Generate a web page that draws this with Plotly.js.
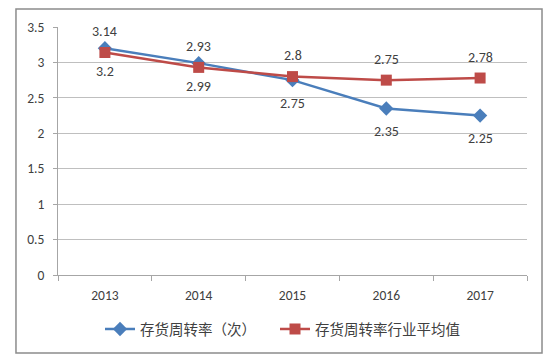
<!DOCTYPE html>
<html><head><meta charset="utf-8">
<script src="https://cdn.plot.ly/plotly-3.0.1.min.js"></script>
<style>html,body{margin:0;padding:0;background:#fff;}</style>
</head><body>
<div id="chart" style="width:554px;height:358px;"></div>
<script>
const years = ['2013', '2014', '2015', '2016', '2017'];
const turnover = [3.2, 2.99, 2.75, 2.35, 2.25];
const industryAvg = [3.14, 2.93, 2.8, 2.75, 2.78];
const name1 = '存货周转率（次）';
const name2 = '存货周转率行业平均值';

const blue = '#4A7EBB', red = '#BE4B48';
const baseFont = 'Carlito, Lato, "Noto Sans CJK SC", sans-serif';
const lblFont = {family: baseFont, size: 14, color: '#404040'};
const legFont = {family: '"Noto Sans CJK SC", sans-serif', size: 14.5, color: '#404040'};

const traces = [
  {x: years, y: turnover, name: name1, type: 'scatter', mode: 'lines+markers', legend: 'legend',
   line: {color: blue, width: 2.5}, marker: {symbol: 'diamond', size: 11, color: blue}, cliponaxis: false},
  {x: years, y: industryAvg, name: name2, type: 'scatter', mode: 'lines+markers', legend: 'legend2',
   line: {color: red, width: 2.5}, marker: {symbol: 'square', size: 11, color: red}, cliponaxis: false}
];

// category axis: annotation positions are category indices
const annotations = [];
years.forEach((yr, i) => {
  annotations.push({x: i, y: turnover[i], xref: 'x', yref: 'y', text: String(turnover[i]),
    showarrow: false, yshift: -23, font: lblFont});
  annotations.push({x: i, y: industryAvg[i], xref: 'x', yref: 'y', text: String(industryAvg[i]),
    showarrow: false, yshift: 21, font: lblFont});
});

const layout = {
  width: 554, height: 358,
  margin: {l: 58, r: 27, t: 27, b: 83},
  paper_bgcolor: '#fff', plot_bgcolor: '#fff',
  font: {family: baseFont, size: 13.5, color: '#404040'},
  showlegend: true,
  legend: {orientation: 'h', x: 0.0896, xanchor: 'left', y: -0.218, yanchor: 'middle',
           font: legFont, bgcolor: 'rgba(0,0,0,0)'},
  legend2: {orientation: 'h', x: 0.4627, xanchor: 'left', y: -0.218, yanchor: 'middle',
           font: legFont, bgcolor: 'rgba(0,0,0,0)'},
  xaxis: {type: 'category', range: [-0.5, 4.5], showgrid: false, showline: true,
          linecolor: '#A6A6A6', linewidth: 1, ticks: 'outside', tickson: 'boundaries',
          ticklen: 5, tickcolor: '#A6A6A6', fixedrange: true, ticklabelstandoff: 8,
          tickfont: {size: 13.5, color: '#404040'}},
  yaxis: {range: [0, 3.5], dtick: 0.5, showgrid: true, gridcolor: '#BFBFBF', gridwidth: 1,
          showline: true, linecolor: '#A6A6A6', ticks: 'outside', ticklen: 4,
          tickcolor: '#A6A6A6', zeroline: false, tickfont: {size: 13.5, color: '#404040'},
          ticklabelstandoff: 6},
  annotations: annotations,
  shapes: [{type: 'rect', xref: 'paper', yref: 'paper', x0: -0.0896, x1: 1.032,
            y0: -0.3145, y1: 1.0726, line: {color: '#8C8C8C', width: 1.5}, layer: 'below'}]
};
Plotly.newPlot('chart', traces, layout, {displayModeBar: false, staticPlot: true});
</script>
</body></html>
